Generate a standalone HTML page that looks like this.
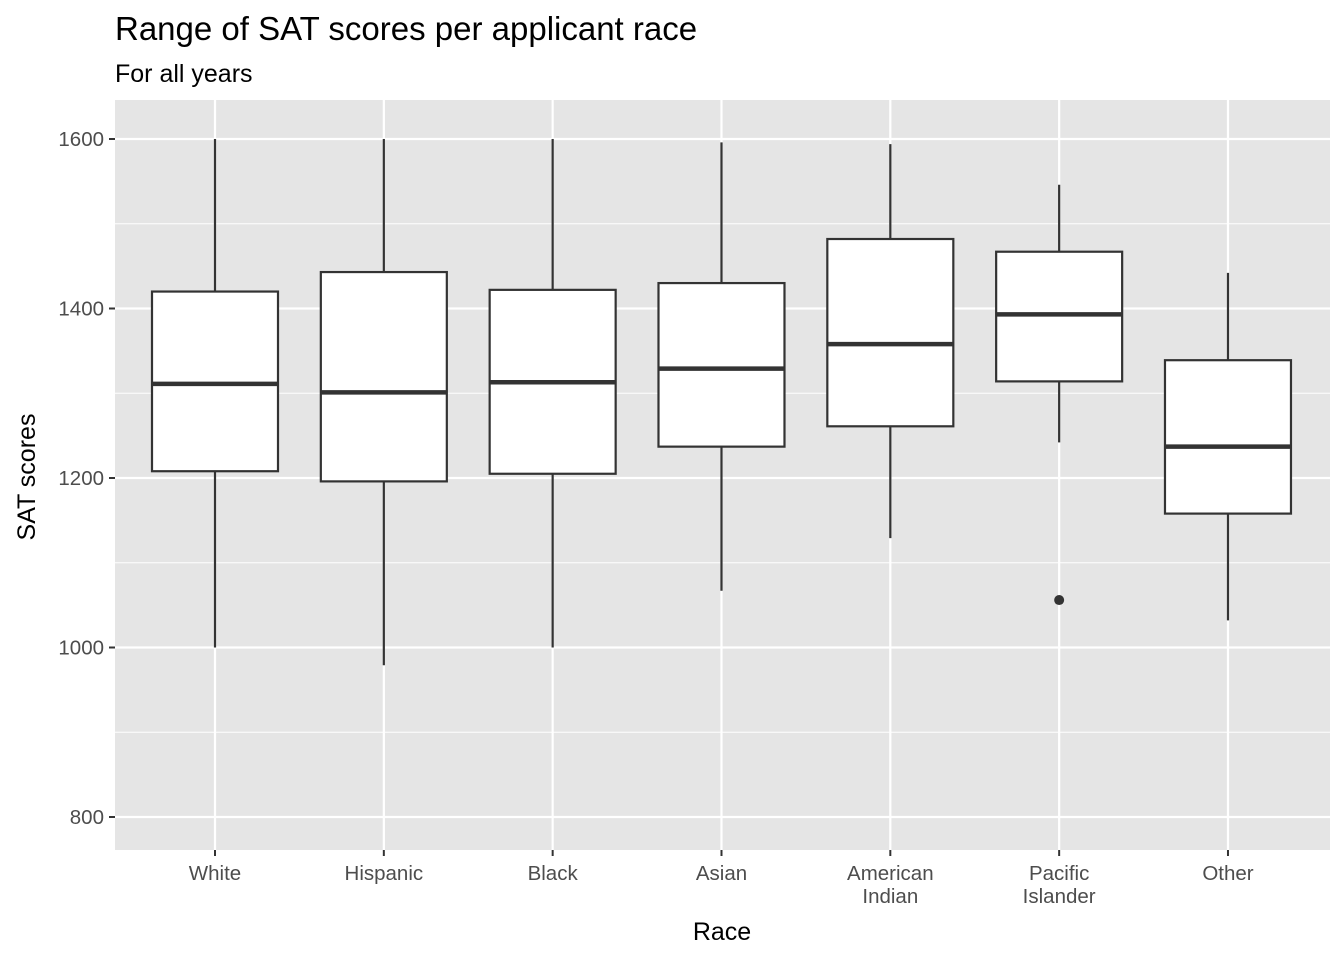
<!DOCTYPE html>
<html><head><meta charset="utf-8"><style>body{margin:0;background:#fff}svg{display:block;font-family:"Liberation Sans",Arial,sans-serif}</style></head>
<body>
<svg id="chart" width="1344" height="960">
<text x="115" y="40" font-size="33" fill="#000">Range of SAT scores per applicant race</text>
<text x="115" y="82" font-size="25" fill="#000">For all years</text>
<rect x="115" y="100" width="1215" height="750" fill="#e5e5e5"/>
<g id="grid"></g><g id="boxes"></g><g id="axes"></g>
<text x="722" y="940" font-size="25" text-anchor="middle">Race</text>
<text transform="translate(35,477) rotate(-90)" font-size="25" text-anchor="middle">SAT scores</text>
</svg>
<script>
const categories=["White","Hispanic","Black","Asian","American\nIndian","Pacific\nIslander","Other"];
const whiskerLow=[1000,979,1000,1067,1129,1242,1032];
const q1=[1208,1196,1205,1237,1261,1314,1158];
const median=[1311,1301,1313,1329,1358,1393,1237];
const q3=[1420,1443,1422,1430,1482,1467,1339];
const whiskerHigh=[1600,1600,1600,1596,1594,1546,1442];
const outliers=[[5,1056]];
const yTicks=[800,1000,1200,1400,1600];
const yMinor=[900,1100,1300,1500];
const NS="http://www.w3.org/2000/svg";
const y=v=>817-(v-800)*0.8475;
const x=i=>215+i*168.83;
function mk(p,t,a){const e=document.createElementNS(NS,t);for(const k in a)e.setAttribute(k,a[k]);p.appendChild(e);return e;}
const g=document.getElementById('grid'),b=document.getElementById('boxes'),ax=document.getElementById('axes');
yMinor.forEach(v=>{const l=mk(g,'line',{x1:115,x2:1330,y1:y(v),y2:y(v),stroke:'#fff','stroke-width':1});

});
yTicks.forEach(v=>{const l=mk(g,'line',{x1:115,x2:1330,y1:y(v),y2:y(v),stroke:'#fff','stroke-width':2.2});


const t=mk(ax,'line',{x1:109,x2:115,y1:y(v),y2:y(v),stroke:'#333','stroke-width':2});


const tx=mk(ax,'text',{x:104,y:y(v)+7,'text-anchor':'end','font-size':20.5,fill:'#4d4d4d'});tx.textContent=v;

});
categories.forEach((c,i)=>{const cx=x(i);
const l=mk(g,'line',{x1:cx,x2:cx,y1:100,y2:850,stroke:'#fff','stroke-width':2.2});


const grp=mk(b,'g',{});


mk(grp,'line',{x1:cx,x2:cx,y1:y(whiskerHigh[i]),y2:y(q3[i]),stroke:'#333','stroke-width':2.2});
mk(grp,'line',{x1:cx,x2:cx,y1:y(q1[i]),y2:y(whiskerLow[i]),stroke:'#333','stroke-width':2.2});
mk(grp,'rect',{x:cx-63,y:y(q3[i]),width:126,height:y(q1[i])-y(q3[i]),fill:'#fff',stroke:'#333','stroke-width':2.2});
mk(grp,'line',{x1:cx-63,x2:cx+63,y1:y(median[i]),y2:y(median[i]),stroke:'#333','stroke-width':4.5});
const t=mk(ax,'line',{x1:cx,x2:cx,y1:850,y2:856,stroke:'#333','stroke-width':2});


c.split('\n').forEach((s,j)=>{const tx=mk(ax,'text',{x:cx,y:880+j*23,'text-anchor':'middle','font-size':20.5,fill:'#4d4d4d'});tx.textContent=s;

});});
outliers.forEach(o=>{const p=mk(b,'circle',{cx:x(o[0]),cy:y(o[1]),r:5,fill:'#333'});

});
</script>
</body></html>
